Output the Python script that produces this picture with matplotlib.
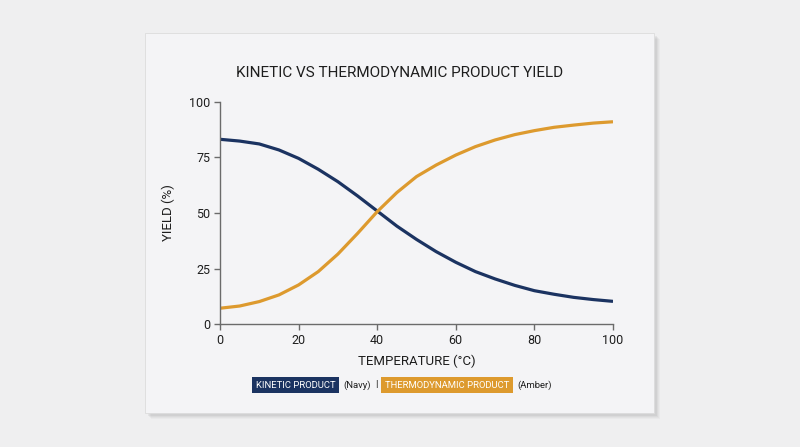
import matplotlib
matplotlib.use("Agg")
import matplotlib.pyplot as plt
from matplotlib.patches import Rectangle

# --- DONNEES (tous les 5 °C) ---
temperature = [0, 5, 10, 15, 20, 25, 30, 35, 40, 45, 50,
               55, 60, 65, 70, 75, 80, 85, 90, 95, 100]
kinetic_yield = [83.2, 82.4, 81.1, 78.4, 74.6, 69.7, 64.1, 57.7, 50.9, 44.1, 38.1,
                 32.6, 27.8, 23.6, 20.3, 17.4, 15.0, 13.4, 12.0, 11.0, 10.2]
thermo_yield = [7.1, 8.1, 10.1, 13.1, 17.6, 23.6, 31.5, 40.8, 50.6, 59.2, 66.4,
                71.6, 76.1, 79.9, 82.9, 85.3, 87.1, 88.6, 89.6, 90.5, 91.1]
x_ticks = [0, 20, 40, 60, 80, 100]
y_ticks = [0, 25, 50, 75, 100]

NAVY = "#1b3361"
AMBER = "#dd9a2e"
AXIS_GREY = "#6b6b6b"
TEXT = "#1e1e1e"

plt.rcParams["font.family"] = ["Roboto", "DejaVu Sans"]

W, H = 800, 447
fig = plt.figure(figsize=(W / 100, H / 100), dpi=100)
fig.patch.set_facecolor("#efeff0")

# carte + ombre (coordonnees en pixels -> fraction figure)
def px_rect(x0, y0, x1, y1, **kw):
    return Rectangle((x0 / W, 1 - y1 / H), (x1 - x0) / W, (y1 - y0) / H,
                     transform=fig.transFigure, **kw)

for i, a in enumerate([0.05, 0.06, 0.08, 0.10]):
    off = 5 - i
    fig.patches.append(px_rect(146 + off, 34 + off, 655 + off, 414 + off,
                               facecolor="#808080", alpha=a, edgecolor="none", zorder=-3))
fig.patches.append(px_rect(145, 33, 654, 413, facecolor="#f4f4f6",
                           edgecolor="#dcdcdc", linewidth=0.6, zorder=-2))

# --- AXES ---
ax = fig.add_axes([220 / W, 1 - 324 / H, 393 / W, 222 / H])
ax.set_zorder(2)
ax.set_facecolor("none")
ax.plot(temperature, kinetic_yield, color=NAVY, lw=2.3,
        solid_capstyle="butt", solid_joinstyle="round")
ax.plot(temperature, thermo_yield, color=AMBER, lw=2.3,
        solid_capstyle="butt", solid_joinstyle="round")

ax.set_xlim(0, 100)
ax.set_ylim(0, 100)
ax.set_xticks(x_ticks)
ax.set_yticks(y_ticks)
for side in ["top", "right"]:
    ax.spines[side].set_visible(False)
for side in ["left", "bottom"]:
    ax.spines[side].set_color(AXIS_GREY)
    ax.spines[side].set_linewidth(1.0)
ax.tick_params(colors=AXIS_GREY, labelcolor=TEXT, labelsize=9, length=4, width=1.0, pad=3)
ax.set_xlabel("TEMPERATURE (°C)", fontsize=9.5, color=TEXT, labelpad=6)
ax.set_ylabel("YIELD (%)", fontsize=9.5, color=TEXT, labelpad=10)

fig.text(400 / W, 1 - 73 / H, "KINETIC VS THERMODYNAMIC PRODUCT YIELD",
         ha="center", va="center", fontsize=11, color=TEXT)

# --- LEGENDE ---
legend_items = [
    ("KINETIC PRODUCT", NAVY, "white"),
    ("(Navy)", None, TEXT),
    ("|", None, TEXT),
    ("THERMODYNAMIC PRODUCT", AMBER, "white"),
    ("(Amber)", None, TEXT),
]
FS_LEG = 6.8
fig.canvas.draw()
renderer = fig.canvas.get_renderer()
y_leg = 1 - 385 / H
texts = []
for label, bg, col in legend_items:
    kw = {}
    if bg:
        kw["bbox"] = dict(boxstyle="square,pad=0.4", facecolor=bg, edgecolor="none")
    t = fig.text(0, y_leg, label, ha="left", va="center", fontsize=FS_LEG, color=col, **kw)
    texts.append((t, bg))

gap = 4
widths = []
for t, bg in texts:
    bb = t.get_window_extent(renderer)
    pad = 0.4 * FS_LEG * 100 / 72 if bg else 0
    widths.append((bb.width, pad))
total = sum(w + 2 * p for w, p in widths) + gap * (len(widths) - 1)
x = 402 - total / 2
for (t, bg), (w, p) in zip(texts, widths):
    t.set_x((x + p) / W)
    x += w + 2 * p + gap

fig.savefig("out.png", dpi=100, facecolor=fig.get_facecolor())
